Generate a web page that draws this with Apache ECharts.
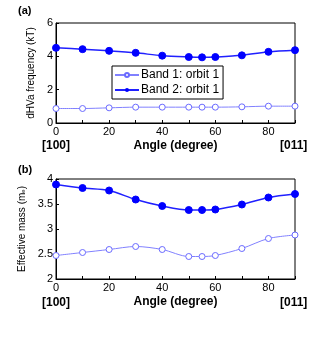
<!DOCTYPE html>
<html>
<head>
<meta charset="utf-8">
<script src="https://cdn.jsdelivr.net/npm/echarts@6/dist/echarts.min.js"></script>
<style>
  html, body { margin: 0; padding: 0; background: #fff; }
  #main { width: 322px; height: 350px; }
</style>
</head>
<body>
<div id="main"></div>
<script>
  // angles (degree)
  const angles = [0, 10, 20, 30, 40, 50, 55, 60, 70, 80, 90];
  // (a) dHvA frequency (kT)
  const freqBand1 = [0.87, 0.87, 0.91, 0.95, 0.95, 0.95, 0.95, 0.95, 0.97, 1.01, 1.01];
  const freqBand2 = [4.51, 4.43, 4.33, 4.21, 4.04, 3.96, 3.94, 3.96, 4.06, 4.27, 4.37];
  // (b) effective mass (m_e)
  const massBand1 = [2.47, 2.53, 2.59, 2.65, 2.59, 2.45, 2.45, 2.47, 2.61, 2.81, 2.88];
  const massBand2 = [3.89, 3.82, 3.77, 3.59, 3.46, 3.38, 3.38, 3.39, 3.49, 3.63, 3.70];
  const names = ['Band 1: orbit 1', 'Band 2: orbit 1'];

  const font = 'Liberation Sans, Arial, sans-serif';
  const pair = (ys) => angles.map((a, i) => [a, ys[i]]);

  const chart = echarts.init(document.getElementById('main'));

  function xAx(idx) {
    return {
      type: 'value', gridIndex: idx, min: 0, max: 90, interval: 10,
      name: 'Angle (degree)', nameLocation: 'middle', nameGap: 17,
      nameTextStyle: { fontFamily: font, fontSize: 12, fontWeight: 'bold', color: '#000' },
      axisLine: { lineStyle: { color: '#000', width: 1 } },
      axisTick: { inside: true, length: 3, lineStyle: { color: '#000' },
        interval: 0 },
      axisLabel: { fontFamily: font, fontSize: 11, color: '#000', margin: 3,
        formatter: v => (v % 20 === 0 ? v : '') },
      splitLine: { show: false }
    };
  }
  function yAx(idx, min, max, interval, name) {
    return {
      type: 'value', gridIndex: idx, min: min, max: max, interval: interval,
      name: name, nameLocation: 'middle', nameGap: 11, nameRotate: 90,
      nameTextStyle: { fontFamily: font, fontSize: 10, color: '#000',
        rich: { sub: { fontFamily: font, fontSize: 6, color: '#000', verticalAlign: 'bottom', padding: [4, 0, 0, 0] } } },
      axisLine: { lineStyle: { color: '#000', width: 1 } },
      axisTick: { inside: true, length: 3, lineStyle: { color: '#000' } },
      axisLabel: { fontFamily: font, fontSize: 11, color: '#000', margin: 3 },
      splitLine: { show: false }
    };
  }
  function band1(x, ys) {
    return {
      name: names[0], type: 'line', xAxisIndex: x, yAxisIndex: x, data: pair(ys),
      smooth: 0.3, symbol: 'circle', symbolSize: 6,
      itemStyle: { color: '#fff', borderColor: '#6a6aff', borderWidth: 1 },
      lineStyle: { color: '#8080ff', width: 1 }
    };
  }
  function band2(x, ys) {
    return {
      name: names[1], type: 'line', xAxisIndex: x, yAxisIndex: x, data: pair(ys),
      smooth: 0.3, symbol: 'circle', symbolSize: 7,
      itemStyle: { color: '#0000ff', borderColor: '#0000ff' },
      lineStyle: { color: '#2020ff', width: 1.5 }
    };
  }

  const labelStyle = { fontFamily: font, fontSize: 12, fontWeight: 'bold', fill: '#000' };

  chart.setOption({
    animation: false,
    grid: [
      { left: 56, top: 23, width: 239, height: 100, show: true, borderColor: '#000', borderWidth: 1 },
      { left: 56, top: 179, width: 239, height: 100, show: true, borderColor: '#000', borderWidth: 1 }
    ],
    legend: {
      data: names, orient: 'vertical', left: 112, top: 66,
      padding: [3, 4, 3, 2], itemGap: 3, itemWidth: 24, itemHeight: 5,
      borderColor: '#000', borderWidth: 1, backgroundColor: '#fff',
      textStyle: { fontFamily: font, fontSize: 12, color: '#000', padding: [0, 0, 0, -3] }
    },
    xAxis: [xAx(0), xAx(1)],
    yAxis: [
      yAx(0, 0, 6, 2, 'dHVa frequency (kT)'),
      yAx(1, 2, 4, 0.5, 'Effective mass (m{sub|e})')
    ],
    series: [
      band1(0, freqBand1), band2(0, freqBand2),
      band1(1, massBand1), band2(1, massBand2)
    ],
    graphic: [
      { type: 'text', left: 18, top: 5, style: Object.assign({}, labelStyle, { text: '(a)', fontSize: 11 }) },
      { type: 'text', left: 18, top: 164, style: Object.assign({}, labelStyle, { text: '(b)', fontSize: 11 }) },
      { type: 'text', left: 42, top: 140, style: Object.assign({ text: '[100]' }, labelStyle) },
      { type: 'text', left: 280, top: 140, style: Object.assign({ text: '[011]' }, labelStyle) },
      { type: 'text', left: 42, top: 297, style: Object.assign({ text: '[100]' }, labelStyle) },
      { type: 'text', left: 280, top: 297, style: Object.assign({ text: '[011]' }, labelStyle) }
    ]
  });
</script>
</body>
</html>
